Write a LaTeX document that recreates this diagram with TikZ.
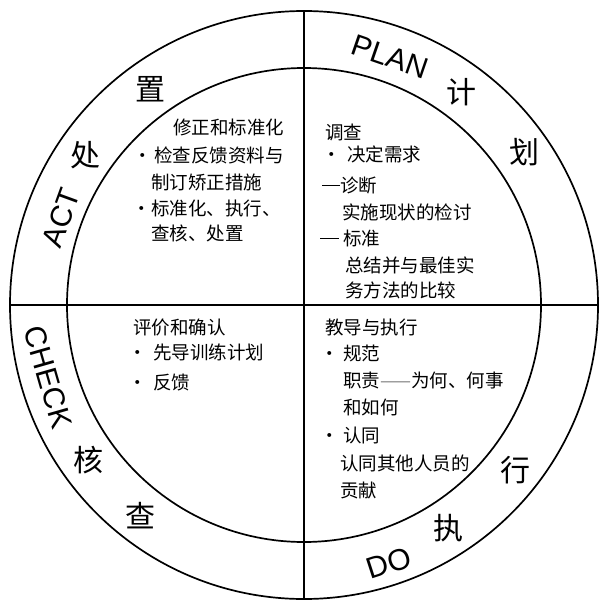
\documentclass[tikz,border=0pt]{standalone}
\usepackage{fontspec}
\setmainfont{Liberation Sans}
\newfontfamily\cjk{Noto Sans CJK SC}
\newcommand{\longdash}[1]{\rule[0.3em]{#1}{1.1pt}}
\begin{document}
\begin{tikzpicture}[x=1pt,y=-1pt,
  ring/.style={circle,draw,line width=1.7pt,inner sep=0pt,outer sep=0pt},
  divider/.style={line width=1.7pt},
  word/.style={font=\fontsize{30}{30}\selectfont,inner sep=0pt},
  zi/.style={font=\cjk\fontsize{30}{30}\selectfont,inner sep=0pt},
  body/.style={font=\cjk\fontsize{18.5}{18.5}\selectfont,anchor=base west,inner sep=0pt},
  dotmark/.style={font=\cjk\fontsize{18.5}{18.5}\selectfont,anchor=base,inner sep=0pt}]
\useasboundingbox (0,0) rectangle (601,602);
% circles and dividers
\node[ring,minimum size=588pt] (outer) at (304,305) {};
\node[ring,minimum size=474pt] (inner) at (304,305) {};
\draw[divider] (outer.north) -- (outer.south);
\draw[divider] (outer.west) -- (outer.east);
% ring labels
\node[word,rotate=-19] (plan) at (390,57) {PLAN};
\node[zi] (ji) at (461,92) {计};
\node[zi] (hua) at (524,152) {划};
\node[word,rotate=70] (act) at (61,218) {ACT};
\node[zi] (chu) at (85,155) {处};
\node[zi] (zhi) at (150,89) {置};
\node[word,rotate=-74] (check) at (48,377) {CHECK};
\node[zi] (he) at (88,460) {核};
\node[zi] (cha) at (140,516) {查};
\node[word,rotate=18] (do) at (389,563) {DO};
\node[zi] (zhix) at (448,528) {执};
\node[zi] (xing) at (515,470) {行};
% ACT quadrant
\node[body] (a1) at (173,134) {修正和标准化};
\node[dotmark] (ab1) at (143,162) {·};
\node[body] (a2) at (154,162) {检查反馈资料与};
\node[body] (a3) at (151,189) {制订矫正措施};
\node[dotmark] (ab2) at (142,215) {·};
\node[body] (a4) at (151,215) {标准化、执行、};
\node[body] (a5) at (151,240) {查核、处置};
% PLAN quadrant
\node[body] (p1) at (325,139) {调查};
\node[dotmark] (pb1) at (332,161) {·};
\node[body] (p2) at (347,161) {决定需求};
\node[body] (p3) at (322,192) {\longdash{18pt}诊断};
\node[body] (p4) at (342,219) {实施现状的检讨};
\node[body] (p5) at (320,245) {\longdash{19pt}\hspace{4pt}标准};
\node[body] (p6) at (345,272) {总结并与最佳实};
\node[body] (p7) at (345,297) {务方法的比较};
% CHECK quadrant
\node[body] (c1) at (133,334) {评价和确认};
\node[dotmark] (cb1) at (138,359) {·};
\node[body] (c2) at (153,359) {先导训练计划};
\node[dotmark] (cb2) at (138,389) {·};
\node[body] (c3) at (153,389) {反馈};
% DO quadrant
\node[body] (d1) at (325,334) {教导与执行};
\node[dotmark] (db1) at (330,360) {·};
\node[body] (d2) at (343,360) {规范};
\node[body] (d3) at (343,387) {职责{\color{gray}——}为何、何事};
\node[body] (d4) at (343,414) {和如何};
\node[dotmark] (db2) at (330,442) {·};
\node[body] (d5) at (343,442) {认同};
\node[body] (d6) at (340,470) {认同其他人员的};
\node[body] (d7) at (340,497) {贡献};
\end{tikzpicture}
\end{document}
